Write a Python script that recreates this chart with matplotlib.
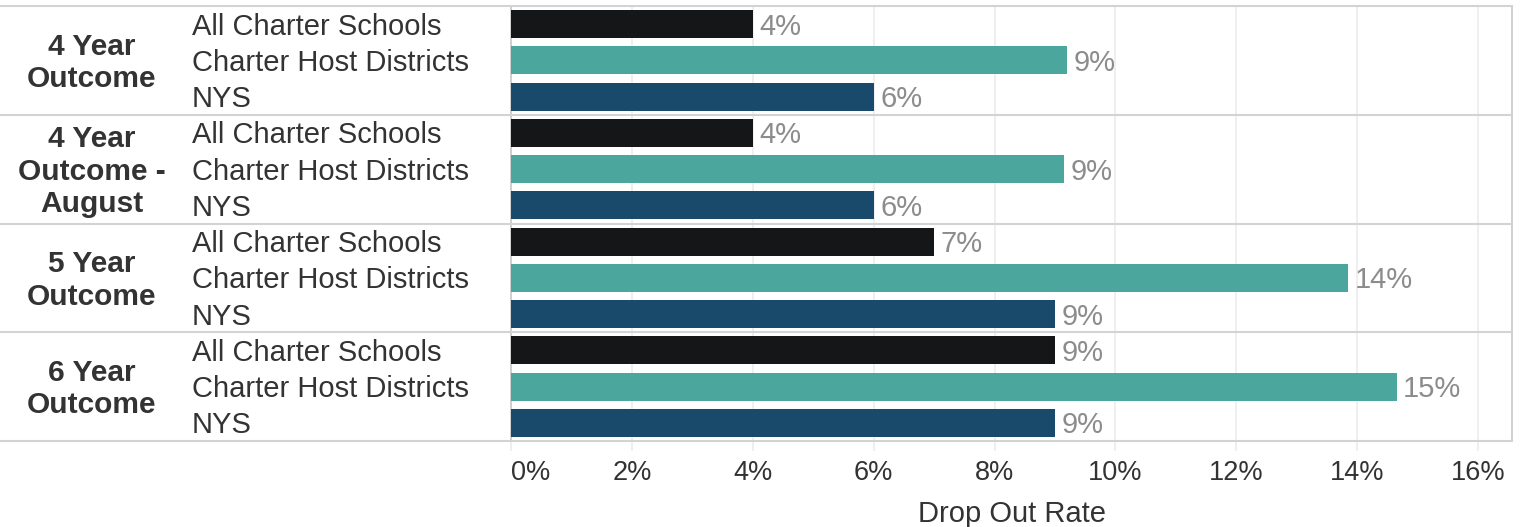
import numpy as np
import matplotlib
matplotlib.use("Agg")
import matplotlib.pyplot as plt
from matplotlib.transforms import blended_transform_factory

plt.rcParams["font.family"] = ["Liberation Sans", "DejaVu Sans"]

# data
groups = ["4 Year\nOutcome", "4 Year\nOutcome -\nAugust", "5 Year\nOutcome", "6 Year\nOutcome"]
series = ["All Charter Schools", "Charter Host Districts", "NYS"]
all_charter = [4.0, 4.0, 7.0, 9.0]
host_districts = [9.2, 9.15, 13.85, 14.65]
nys = [6.0, 6.0, 9.0, 9.0]
colors = ["#151618", "#4ba79d", "#1a4a6b"]
ticks = [0, 2, 4, 6, 8, 10, 12, 14, 16]

values = [all_charter, host_districts, nys]

fig = plt.figure(figsize=(15.26, 5.27), dpi=100)
ax = fig.add_axes([511 / 1526, 86 / 527, 1001 / 1526, 435 / 527])

ngroups = len(groups)
nser = len(series)
dy = 0.07  # text nudge downwards
for g in range(ngroups):
    for s in range(nser):
        y = g * nser + s + 0.5
        v = values[s][g]
        ax.barh(y, v, height=0.77, color=colors[s], zorder=3)
        ax.text(v + 0.11, y + dy, f"{round(v)}%", va="center", ha="left",
                fontsize=21, color="#8c8c8c", zorder=4)

ax.set_ylim(ngroups * nser, 0)
ax.set_xlim(0, 16.56)
ax.set_yticks([])
ax.set_xticks(ticks)
ax.set_xticklabels([f"{t}%" for t in ticks], fontsize=19.5, color="#333333")
ax.get_xticklabels()[0].set_horizontalalignment("left")
ax.tick_params(axis="x", length=7, width=1.2, color="#ececec", pad=7)
ax.set_xlabel("Drop Out Rate", fontsize=21, color="#333333", labelpad=10)
ax.grid(axis="x", color="#ececec", linewidth=1.2, zorder=0)

for side in ["top", "bottom"]:
    ax.spines[side].set_visible(False)
ax.spines["left"].set_color("#cfcfcf")
ax.spines["right"].set_color("#cfcfcf")
ax.spines["left"].set_linewidth(1.4)
ax.spines["right"].set_linewidth(1.4)

# labels on the left, in figure x / data y
tr = blended_transform_factory(fig.transFigure, ax.transData)
for g in range(ngroups):
    ax.text(92 / 1526, g * nser + nser / 2 + dy, groups[g], transform=tr,
            ha="center", va="center", fontsize=21.5, fontweight="bold",
            color="#333333", linespacing=1.2)
    for s in range(nser):
        ax.text(192 / 1526, g * nser + s + 0.5 + dy, series[s], transform=tr,
                ha="left", va="center", fontsize=21, color="#333333")

# row separators across the whole width
for k in range(ngroups + 1):
    ax.plot([0, 1512 / 1526], [k * nser, k * nser], transform=tr,
            color="#d3d3d3", linewidth=1.5, clip_on=False, zorder=5)

fig.savefig("out.png", dpi=100)
